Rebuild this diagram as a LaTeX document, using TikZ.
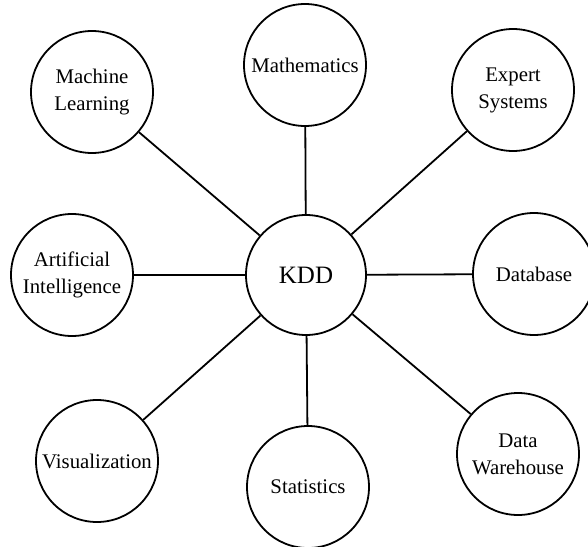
\documentclass[tikz,border=0pt]{standalone}
\usepackage{fontspec}
\setmainfont{Liberation Serif}
\usepackage{tikz}

\tikzset{
  topic/.style={draw, circle, line width=0.9pt, minimum size=61pt,
    inner sep=1pt, align=center, font=\fontsize{10.4}{13.5}\selectfont},
  hub/.style={topic, minimum size=60pt, font=\fontsize{12.5}{14}\selectfont},
  link/.style={line width=0.9pt}
}

\begin{document}
\begin{tikzpicture}[x=0.5pt, y=-0.5pt]
  \useasboundingbox (0,0) rectangle (588,546);
  \node[hub] (kdd) at (306,275) {KDD};
  \node[topic] (math)  at (305,65)  {Mathematics};
  \node[topic] (ml)    at (92,92)   {Machine\\Learning};
  \node[topic] (es)    at (513,90)  {Expert\\Systems};
  \node[topic] (ai)    at (72,275)  {Artificial\\Intelligence};
  \node[topic] (db)    at (534,274) {Database};
  \node[topic] (vis)   at (97,461)  {Visualization};
  \node[topic] (stat)  at (308,487) {Statistics};
  \node[topic] (dw)    at (518,454) {Data\\Warehouse};
  \foreach \n in {math,ml,es,ai,db,vis,stat,dw}
    \draw[link] (kdd) -- (\n);
\end{tikzpicture}
\end{document}
